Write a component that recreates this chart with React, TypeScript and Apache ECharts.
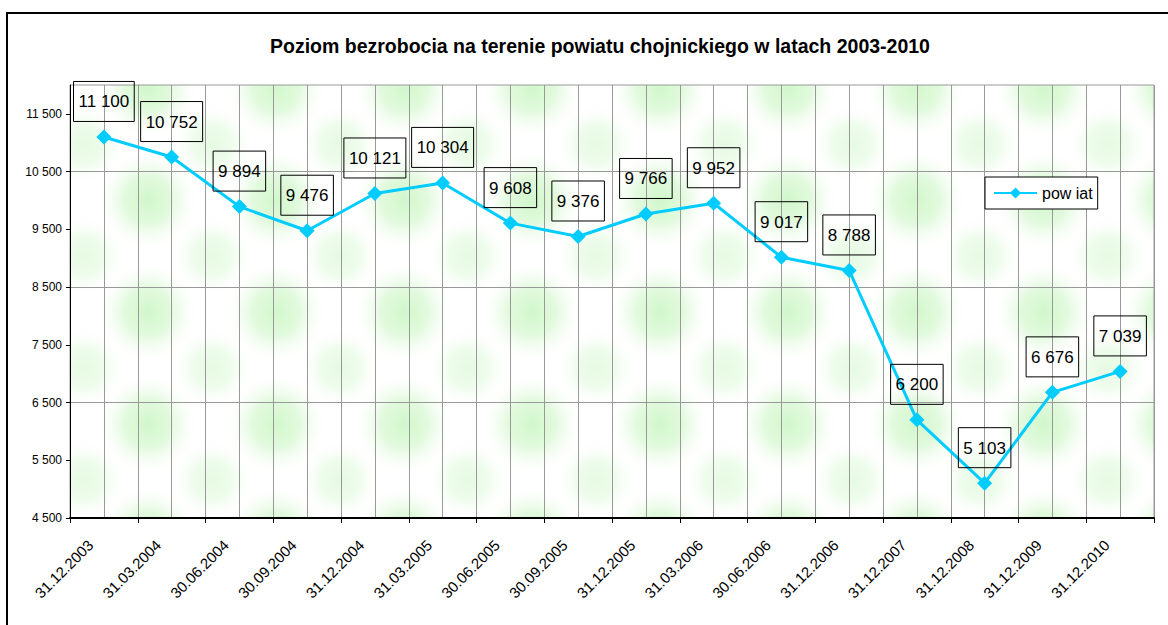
import React, { useEffect, useRef } from "react";
import * as echarts from "echarts";

const TITLE = "Poziom bezrobocia na terenie powiatu chojnickiego w latach 2003-2010";
const SERIES_NAME = "pow iat";
const CATEGORIES = [
  "31.12.2003", "31.03.2004", "30.06.2004", "30.09.2004",
  "31.12.2004", "31.03.2005", "30.06.2005", "30.09.2005",
  "31.12.2005", "31.03.2006", "30.06.2006", "31.12.2006",
  "31.12.2007", "31.12.2008", "31.12.2009", "31.12.2010",
];
const POWIAT = [11100, 10752, 9894, 9476, 10121, 10304, 9608, 9376, 9766, 9952, 9017, 8788, 6200, 5103, 6676, 7039];
const Y_TICKS = [4500, 5500, 6500, 7500, 8500, 9500, 10500, 11500];
const Y_MIN = 4500;
const Y_MAX = 12000;

const FONT = "Arial, 'Liberation Sans', sans-serif";

function fmt(n: number): string {
  return String(n).replace(/\B(?=(\d{3})+(?!\d))/g, " ");
}

function makePattern(w: number, h: number): string {
  const c = document.createElement("canvas");
  c.width = w;
  c.height = h;
  const ctx = c.getContext("2d")!;
  ctx.fillStyle = "#ffffff";
  ctx.fillRect(0, 0, w, h);
  const blobs = [
    [20, 88, 52, 0.8],
    [84, 32, 42, 0.45],
  ];
  for (const [bx, by, r, a] of blobs) {
    for (const dx of [-w, 0, w]) {
      for (const dy of [-h, 0, h]) {
        const cx = bx + dx;
        const cy = by + dy;
        const g = ctx.createRadialGradient(cx, cy, 0, cx, cy, r);
        g.addColorStop(0, `rgba(198,245,190,${a})`);
        g.addColorStop(0.45, `rgba(205,246,198,${a * 0.75})`);
        g.addColorStop(1, "rgba(255,255,255,0)");
        ctx.fillStyle = g;
        ctx.fillRect(0, 0, w, h);
      }
    }
  }
  return c.toDataURL();
}

export default function App() {
  const ref = useRef<HTMLDivElement>(null);
  useEffect(() => {
    if (!ref.current) return;
    const chart = echarts.init(ref.current, undefined, { renderer: "svg" });
    const pw = 128;
    const ph = 112;
    const pattern = makePattern(pw, ph);
    const halfSteps = CATEGORIES.length * 2;
    chart.setOption({
      animation: false,
      backgroundColor: "#ffffff",
      textStyle: { fontFamily: FONT },
      title: {
        text: TITLE,
        left: 265,
        top: 31,
        textStyle: { fontFamily: FONT, fontSize: 19.5, fontWeight: "bold", color: "#000" },
      },
      graphic: [
        {
          type: "rect",
          shape: { x: 7, y: 13, width: 1200, height: 700 },
          style: { fill: "none", stroke: "#000", lineWidth: 2 },
          silent: true,
        },
      ],
      legend: {
        left: 985,
        top: 177,
        itemWidth: 43,
        itemHeight: 14,
        itemGap: 5,
        padding: [8, 5, 8, 8],
        borderColor: "#000",
        borderWidth: 1,
        borderRadius: 0,
        backgroundColor: "#fff",
        textStyle: { fontFamily: FONT, fontSize: 16, color: "#000" },
        data: [SERIES_NAME],
      },
      grid: {
        left: 70,
        right: 14,
        top: 85,
        bottom: 107,
        show: true,
        backgroundColor: { image: pattern, repeat: "repeat", imageWidth: pw, imageHeight: ph },
        borderColor: "#999",
        borderWidth: 1,
      },
      xAxis: [
        {
          type: "category",
          data: CATEGORIES,
          boundaryGap: true,
          axisLine: { show: true, lineStyle: { color: "#000", width: 2 } },
          axisTick: { show: true, length: 5, lineStyle: { color: "#000" } },
          axisLabel: {
            rotate: 45,
            interval: 0,
            margin: 11,
            padding: [0, 19, 0, 0],
            fontSize: 15,
            color: "#000",
            fontFamily: FONT,
          },
          splitLine: { show: false },
          z: 3,
        },
        {
          type: "value",
          min: 0,
          max: halfSteps,
          interval: 1,
          show: true,
          axisLine: { show: false },
          axisTick: { show: false },
          axisLabel: { show: false },
          splitLine: { show: true, lineStyle: { color: "#999", width: 1 } },
        },
      ],
      yAxis: {
        type: "value",
        min: Y_MIN,
        max: Y_MAX,
        interval: 500,
        axisLine: { show: true, lineStyle: { color: "#000", width: 1 } },
        axisTick: { show: true, length: 4, lineStyle: { color: "#000" }, customValues: Y_TICKS },
        axisLabel: {
          margin: 8,
          fontSize: 12,
          color: "#000",
          fontFamily: FONT,
          customValues: Y_TICKS,
          formatter: (v: number) => fmt(v),
        },
        splitLine: {
          show: true,
          lineStyle: { color: ["#999", "rgba(0,0,0,0)"], width: 1 },
        },
      },
      series: [
        {
          name: SERIES_NAME,
          type: "line",
          xAxisIndex: 0,
          data: POWIAT,
          symbol: "diamond",
          symbolSize: 15,
          lineStyle: { color: "#00CCFF", width: 3 },
          itemStyle: { color: "#00CCFF" },
          label: {
            show: true,
            position: "top",
            distance: 8,
            formatter: (p: any) => fmt(p.value),
            fontFamily: FONT,
            fontSize: 17,
            color: "#000",
            borderColor: "#000",
            borderWidth: 1,
            padding: [12, 5, 11, 5],
          },
          z: 5,
        },
      ],
    });
    return () => chart.dispose();
  }, []);
  return (
    <div
      ref={ref}
      style={{ position: "fixed", left: 0, top: 0, width: 1168, height: 625 }}
    />
  );
}
